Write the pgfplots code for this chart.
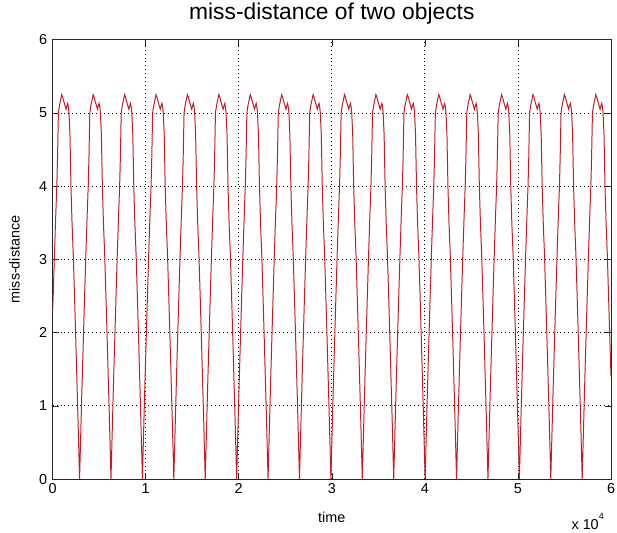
\documentclass[border=0pt]{standalone}
\usepackage{fontspec}
\setmainfont{Liberation Sans}
\usepackage{pgfplots}
\pgfplotsset{compat=1.18}
\definecolor{traceRed}{RGB}{195,28,38}
\definecolor{axisGray}{RGB}{38,38,38}

\begin{document}
\begin{tikzpicture}
\begin{axis}[
  name=ax,
  scale only axis,
  width=563pt, height=443pt,
  xmin=0, xmax=60000, ymin=0, ymax=6,
  xtick={0,10000,20000,30000,40000,50000,60000},
  xticklabels={0,1,2,3,4,5,6},
  ytick={0,1,2,3,4,5,6},
  yticklabels={0,1,2,3,4,5,6},
  scaled x ticks=false,
  tick align=inside,
  xtick pos=both, ytick pos=both,
  major tick length=6pt,
  tick style={axisGray, line width=0.6pt},
  axis line style={axisGray, line width=0.8pt},
  grid=major,
  major grid style={black, line width=0.8pt, dash pattern=on 1pt off 3pt},
  ticklabel style={font=\fontsize{14.5}{16}\selectfont, black},
  yticklabel style={xshift=-2pt},
  xticklabel style={yshift=-1pt},
  title={miss-distance of two objects},
  title style={font=\fontsize{23}{25}\selectfont, at={(axis description cs:0.5,1)}, anchor=base, yshift=14pt},
  xlabel={time},
  xlabel style={font=\fontsize{14.5}{16}\selectfont, at={(axis description cs:0.5,-0.0993)}, anchor=base},
  ylabel={miss-distance},
  ylabel style={font=\fontsize{14.5}{16}\selectfont, at={(axis description cs:-0.068,0.5)}, anchor=center},
]
% distance between the two objects over time
\addplot[traceRed, line width=1pt, mark=none] coordinates {
(0,2.30) (65,2.49) (200,3.06) (335,3.58) (455,4.00) (535,4.40) (625,5.00) (740,5.10) (875,5.18) (985,5.25) (1080,5.22) (1155,5.18) (1245,5.14) (1335,5.10) (1445,5.05) (1550,5.10) (1625,5.13) (1700,5.08) (1765,5.00) (1870,4.70) (1975,4.00) (2090,3.50) (2225,3.06) (2360,2.49) (2495,1.90) (2595,1.44) (2700,0.97) (2800,0.49)
(2900,0) (3000,0.49) (3100,0.97) (3200,1.44) (3305,1.90) (3440,2.49) (3575,3.06) (3710,3.58) (3830,4.00) (3910,4.40) (4000,5.00) (4115,5.10) (4250,5.18) (4360,5.25) (4455,5.22) (4530,5.18) (4620,5.14) (4710,5.10) (4820,5.05) (4925,5.10) (5000,5.13) (5075,5.08) (5140,5.00) (5245,4.70) (5350,4.00) (5465,3.50) (5600,3.06) (5735,2.49) (5870,1.90) (5970,1.44) (6075,0.97) (6175,0.49)
(6275,0) (6375,0.49) (6475,0.97) (6575,1.44) (6680,1.90) (6815,2.49) (6950,3.06) (7085,3.58) (7205,4.00) (7285,4.40) (7375,5.00) (7490,5.10) (7625,5.18) (7735,5.25) (7830,5.22) (7905,5.18) (7995,5.14) (8085,5.10) (8195,5.05) (8300,5.10) (8375,5.13) (8450,5.08) (8515,5.00) (8620,4.70) (8725,4.00) (8840,3.50) (8975,3.06) (9110,2.49) (9245,1.90) (9345,1.44) (9450,0.97) (9550,0.49)
(9650,0) (9750,0.49) (9850,0.97) (9950,1.44) (10055,1.90) (10190,2.49) (10325,3.06) (10460,3.58) (10580,4.00) (10660,4.40) (10750,5.00) (10865,5.10) (11000,5.18) (11110,5.25) (11205,5.22) (11280,5.18) (11370,5.14) (11460,5.10) (11570,5.05) (11675,5.10) (11750,5.13) (11825,5.08) (11890,5.00) (11995,4.70) (12100,4.00) (12215,3.50) (12350,3.06) (12485,2.49) (12620,1.90) (12720,1.44) (12825,0.97) (12925,0.49)
(13025,0) (13125,0.49) (13225,0.97) (13325,1.44) (13430,1.90) (13565,2.49) (13700,3.06) (13835,3.58) (13955,4.00) (14035,4.40) (14125,5.00) (14240,5.10) (14375,5.18) (14485,5.25) (14580,5.22) (14655,5.18) (14745,5.14) (14835,5.10) (14945,5.05) (15050,5.10) (15125,5.13) (15200,5.08) (15265,5.00) (15370,4.70) (15475,4.00) (15590,3.50) (15725,3.06) (15860,2.49) (15995,1.90) (16095,1.44) (16200,0.97) (16300,0.49)
(16400,0) (16500,0.49) (16600,0.97) (16700,1.44) (16805,1.90) (16940,2.49) (17075,3.06) (17210,3.58) (17330,4.00) (17410,4.40) (17500,5.00) (17615,5.10) (17750,5.18) (17860,5.25) (17955,5.22) (18030,5.18) (18120,5.14) (18210,5.10) (18320,5.05) (18425,5.10) (18500,5.13) (18575,5.08) (18640,5.00) (18745,4.70) (18850,4.00) (18965,3.50) (19100,3.06) (19235,2.49) (19370,1.90) (19470,1.44) (19575,0.97) (19675,0.49)
(19775,0) (19875,0.49) (19975,0.97) (20075,1.44) (20180,1.90) (20315,2.49) (20450,3.06) (20585,3.58) (20705,4.00) (20785,4.40) (20875,5.00) (20990,5.10) (21125,5.18) (21235,5.25) (21330,5.22) (21405,5.18) (21495,5.14) (21585,5.10) (21695,5.05) (21800,5.10) (21875,5.13) (21950,5.08) (22015,5.00) (22120,4.70) (22225,4.00) (22340,3.50) (22475,3.06) (22610,2.49) (22745,1.90) (22845,1.44) (22950,0.97) (23050,0.49)
(23150,0) (23250,0.49) (23350,0.97) (23450,1.44) (23555,1.90) (23690,2.49) (23825,3.06) (23960,3.58) (24080,4.00) (24160,4.40) (24250,5.00) (24365,5.10) (24500,5.18) (24610,5.25) (24705,5.22) (24780,5.18) (24870,5.14) (24960,5.10) (25070,5.05) (25175,5.10) (25250,5.13) (25325,5.08) (25390,5.00) (25495,4.70) (25600,4.00) (25715,3.50) (25850,3.06) (25985,2.49) (26120,1.90) (26220,1.44) (26325,0.97) (26425,0.49)
(26525,0) (26625,0.49) (26725,0.97) (26825,1.44) (26930,1.90) (27065,2.49) (27200,3.06) (27335,3.58) (27455,4.00) (27535,4.40) (27625,5.00) (27740,5.10) (27875,5.18) (27985,5.25) (28080,5.22) (28155,5.18) (28245,5.14) (28335,5.10) (28445,5.05) (28550,5.10) (28625,5.13) (28700,5.08) (28765,5.00) (28870,4.70) (28975,4.00) (29090,3.50) (29225,3.06) (29360,2.49) (29495,1.90) (29595,1.44) (29700,0.97) (29800,0.49)
(29900,0) (30000,0.49) (30100,0.97) (30200,1.44) (30305,1.90) (30440,2.49) (30575,3.06) (30710,3.58) (30830,4.00) (30910,4.40) (31000,5.00) (31115,5.10) (31250,5.18) (31360,5.25) (31455,5.22) (31530,5.18) (31620,5.14) (31710,5.10) (31820,5.05) (31925,5.10) (32000,5.13) (32075,5.08) (32140,5.00) (32245,4.70) (32350,4.00) (32465,3.50) (32600,3.06) (32735,2.49) (32870,1.90) (32970,1.44) (33075,0.97) (33175,0.49)
(33275,0) (33375,0.49) (33475,0.97) (33575,1.44) (33680,1.90) (33815,2.49) (33950,3.06) (34085,3.58) (34205,4.00) (34285,4.40) (34375,5.00) (34490,5.10) (34625,5.18) (34735,5.25) (34830,5.22) (34905,5.18) (34995,5.14) (35085,5.10) (35195,5.05) (35300,5.10) (35375,5.13) (35450,5.08) (35515,5.00) (35620,4.70) (35725,4.00) (35840,3.50) (35975,3.06) (36110,2.49) (36245,1.90) (36345,1.44) (36450,0.97) (36550,0.49)
(36650,0) (36750,0.49) (36850,0.97) (36950,1.44) (37055,1.90) (37190,2.49) (37325,3.06) (37460,3.58) (37580,4.00) (37660,4.40) (37750,5.00) (37865,5.10) (38000,5.18) (38110,5.25) (38205,5.22) (38280,5.18) (38370,5.14) (38460,5.10) (38570,5.05) (38675,5.10) (38750,5.13) (38825,5.08) (38890,5.00) (38995,4.70) (39100,4.00) (39215,3.50) (39350,3.06) (39485,2.49) (39620,1.90) (39720,1.44) (39825,0.97) (39925,0.49)
(40025,0) (40125,0.49) (40225,0.97) (40325,1.44) (40430,1.90) (40565,2.49) (40700,3.06) (40835,3.58) (40955,4.00) (41035,4.40) (41125,5.00) (41240,5.10) (41375,5.18) (41485,5.25) (41580,5.22) (41655,5.18) (41745,5.14) (41835,5.10) (41945,5.05) (42050,5.10) (42125,5.13) (42200,5.08) (42265,5.00) (42370,4.70) (42475,4.00) (42590,3.50) (42725,3.06) (42860,2.49) (42995,1.90) (43095,1.44) (43200,0.97) (43300,0.49)
(43400,0) (43500,0.49) (43600,0.97) (43700,1.44) (43805,1.90) (43940,2.49) (44075,3.06) (44210,3.58) (44330,4.00) (44410,4.40) (44500,5.00) (44615,5.10) (44750,5.18) (44860,5.25) (44955,5.22) (45030,5.18) (45120,5.14) (45210,5.10) (45320,5.05) (45425,5.10) (45500,5.13) (45575,5.08) (45640,5.00) (45745,4.70) (45850,4.00) (45965,3.50) (46100,3.06) (46235,2.49) (46370,1.90) (46470,1.44) (46575,0.97) (46675,0.49)
(46775,0) (46875,0.49) (46975,0.97) (47075,1.44) (47180,1.90) (47315,2.49) (47450,3.06) (47585,3.58) (47705,4.00) (47785,4.40) (47875,5.00) (47990,5.10) (48125,5.18) (48235,5.25) (48330,5.22) (48405,5.18) (48495,5.14) (48585,5.10) (48695,5.05) (48800,5.10) (48875,5.13) (48950,5.08) (49015,5.00) (49120,4.70) (49225,4.00) (49340,3.50) (49475,3.06) (49610,2.49) (49745,1.90) (49845,1.44) (49950,0.97) (50050,0.49)
(50150,0) (50250,0.49) (50350,0.97) (50450,1.44) (50555,1.90) (50690,2.49) (50825,3.06) (50960,3.58) (51080,4.00) (51160,4.40) (51250,5.00) (51365,5.10) (51500,5.18) (51610,5.25) (51705,5.22) (51780,5.18) (51870,5.14) (51960,5.10) (52070,5.05) (52175,5.10) (52250,5.13) (52325,5.08) (52390,5.00) (52495,4.70) (52600,4.00) (52715,3.50) (52850,3.06) (52985,2.49) (53120,1.90) (53220,1.44) (53325,0.97) (53425,0.49)
(53525,0) (53625,0.49) (53725,0.97) (53825,1.44) (53930,1.90) (54065,2.49) (54200,3.06) (54335,3.58) (54455,4.00) (54535,4.40) (54625,5.00) (54740,5.10) (54875,5.18) (54985,5.25) (55080,5.22) (55155,5.18) (55245,5.14) (55335,5.10) (55445,5.05) (55550,5.10) (55625,5.13) (55700,5.08) (55765,5.00) (55870,4.70) (55975,4.00) (56090,3.50) (56225,3.06) (56360,2.49) (56495,1.90) (56595,1.44) (56700,0.97) (56800,0.49)
(56900,0) (57000,0.49) (57100,0.97) (57200,1.44) (57305,1.90) (57440,2.49) (57575,3.06) (57710,3.58) (57830,4.00) (57910,4.40) (58000,5.00) (58115,5.10) (58250,5.18) (58360,5.25) (58455,5.22) (58530,5.18) (58620,5.14) (58710,5.10) (58820,5.05) (58925,5.10) (59000,5.13) (59075,5.08) (59140,5.00) (59245,4.70) (59350,4.00) (59465,3.50) (59600,3.06) (59735,2.49) (59870,1.90) (59970,1.50) (60000,1.40)
};
\end{axis}
% power-of-ten factor of the time axis
\node[anchor=base west, font=\fontsize{14.5}{16}\selectfont, inner sep=0pt]
  at ([xshift=-40pt,yshift=-51pt]ax.south east) {x 10\raisebox{10pt}{\fontsize{9}{9}\selectfont 4}};
\pgfresetboundingbox
\path[use as bounding box] ([xshift=-53pt,yshift=-54pt]ax.south west) rectangle ([xshift=6pt,yshift=40pt]ax.north east);
\end{tikzpicture}
\end{document}
